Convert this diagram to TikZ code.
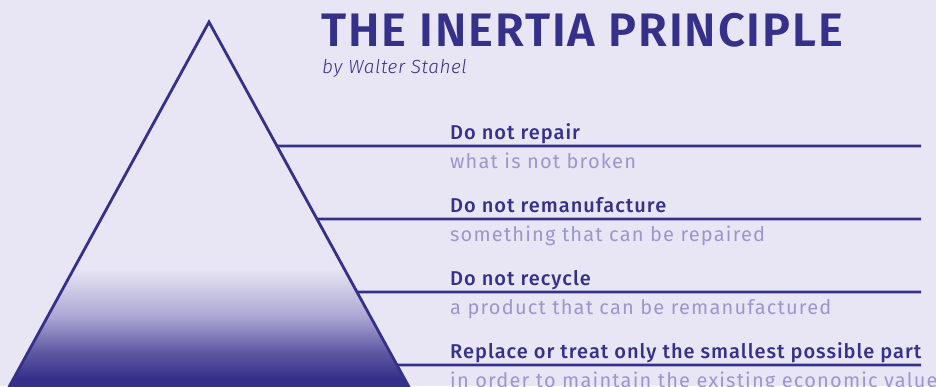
\documentclass[tikz,border=0pt]{standalone}
\usepackage{fontspec}
\usetikzlibrary{calc}
\setmainfont{Fira Sans}
\newfontfamily\titlefont{Fira Sans SemiBold}[LetterSpace=4]
\newfontfamily\headfont{Fira Sans Medium}[LetterSpace=5]
\newfontfamily\subfont{Fira Sans}[LetterSpace=6]
\newfontfamily\byfont{Fira Sans Light Italic}[LetterSpace=3]
\definecolor{bg}{HTML}{E8E6F4}
\definecolor{ink}{HTML}{35308A}
\definecolor{soft}{HTML}{9C96CF}
\definecolor{gradA}{HTML}{A9A5D3}
\definecolor{gradB}{HTML}{625CA5}
\tikzset{
  heading/.style={anchor=base west, inner sep=0pt, text=ink, font=\headfont\fontsize{20}{24}\selectfont},
  subline/.style={anchor=base west, inner sep=0pt, text=soft, font=\subfont\fontsize{20}{24}\selectfont},
  rule/.style={draw=ink, line width=2.6pt},
  edge/.style={draw=ink, line width=2.8pt, line join=miter}
}
\begin{document}
\begin{tikzpicture}[x=1pt,y=-1pt]
\useasboundingbox (0,0) rectangle (936,386);
\fill[bg] (0,0) rectangle (936,386);
% triangle
\coordinate (apex) at (209,22);
\coordinate (bl) at (4.6,395);
\coordinate (br) at (413.4,395);
\begin{scope}
  \clip (apex) -- (br) -- (bl) -- cycle;
  \shade[top color=bg, bottom color=gradA] (0,268) rectangle (936,317.5);
  \shade[top color=gradA, bottom color=gradB] (0,317) rectangle (936,350.5);
  \shade[top color=gradB, bottom color=ink] (0,350) rectangle (936,378.5);
  \fill[ink] (0,378) rectangle (936,400);
\end{scope}
\draw[edge] (bl) -- (apex) -- (br);
% title
\node[anchor=base west, inner sep=0pt, text=ink, font=\titlefont\fontsize{47}{56}\selectfont] (title) at (321,46) {THE INERTIA PRINCIPLE};
\node[anchor=base west, inner sep=0pt, text=ink, font=\byfont\fontsize{19}{22}\selectfont] (by) at (322,73) {by Walter Stahel};
% levels
\foreach \y/\n in {146/1,219/2,292/3,365/4}{
  \coordinate (s\n) at ($(apex)!{(\y-22)/373}!(br)$);
  \coordinate (e\n) at (921,\y);
  \draw[rule] (s\n) -- (e\n);
}
\node[heading] (h1) at (450,139) {Do not repair};
\node[subline] (t1) at (450,168) {what is not broken};
\node[heading] (h2) at (450,212) {Do not remanufacture};
\node[subline] (t2) at (450,241) {something that can be repaired};
\node[heading] (h3) at (450,285) {Do not recycle};
\node[subline] (t3) at (450,314) {a product that can be remanufactured};
\node[heading] (h4) at (450,358) {Replace or treat only the smallest possible part};
\node[subline] (t4) at (450,387) {in order to maintain the existing economic value};
\end{tikzpicture}
\end{document}
